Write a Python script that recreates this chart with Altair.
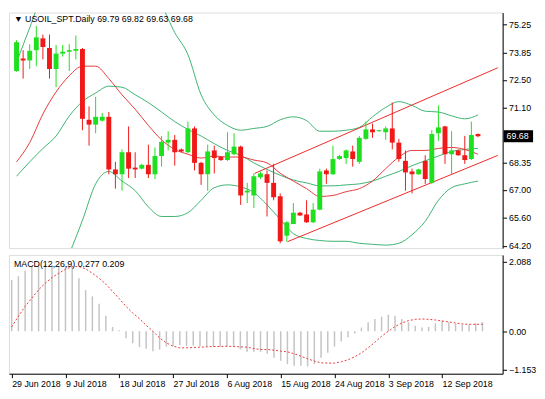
import altair as alt
import pandas as pd

# ---------------- data ----------------
opens = [72.94, 73.57, 73.47, 73.98, 74.57, 74.09, 73.04, 73.81, 73.90, 73.95,
         74.04, 70.50, 70.26, 70.46, 70.65, 68.02, 67.78, 68.88, 68.11, 68.06,
         68.25, 67.78, 68.69, 69.36, 69.50, 69.02, 68.88, 70.07, 68.35, 67.78,
         68.97, 68.64, 68.49, 68.78, 69.16, 66.87, 66.72, 67.63, 67.78, 67.35,
         66.68, 64.71, 65.29, 65.86, 65.77, 65.38, 66.01, 67.97, 67.78, 68.54,
         68.59, 68.92, 68.40, 69.55, 70.02, 69.93, 69.88, 70.07, 69.36, 68.45,
         67.92, 67.78, 68.45, 67.35, 69.83, 70.17, 68.78, 68.97, 68.73, 68.54,
         69.79]
highs = [74.48, 73.98, 74.28, 75.19, 74.76, 74.76, 74.24, 74.24, 74.28, 74.71,
         74.09, 71.17, 71.65, 70.84, 70.89, 68.40, 69.02, 70.17, 68.88, 68.30,
         69.26, 69.12, 69.69, 69.93, 69.74, 69.07, 70.41, 70.17, 68.40, 69.26,
         69.21, 68.69, 69.88, 69.83, 69.21, 67.35, 67.82, 67.92, 67.97, 68.30,
         66.82, 65.43, 66.34, 65.90, 66.48, 66.34, 68.06, 68.06, 69.21, 68.75,
         69.02, 69.21, 69.69, 70.41, 70.31, 70.00, 70.17, 71.36, 69.55, 68.97,
         68.06, 68.06, 68.73, 69.98, 71.22, 70.20, 69.93, 69.02, 69.69, 70.41,
         69.82]
lows = [72.90, 72.56, 73.04, 73.18, 73.52, 72.56, 72.13, 73.66, 72.94, 73.52,
        69.98, 69.21, 69.83, 70.41, 67.78, 67.06, 66.96, 67.59, 67.59, 68.02,
        67.59, 67.54, 68.16, 68.97, 68.21, 68.88, 68.83, 67.97, 67.25, 66.96,
        67.82, 68.45, 68.45, 68.73, 66.25, 66.34, 66.10, 67.54, 65.67, 66.48,
        64.33, 64.41, 65.29, 65.70, 65.35, 65.35, 65.98, 67.30, 67.75, 68.50,
        68.30, 68.16, 68.30, 69.50, 69.60, 69.90, 69.50, 69.02, 68.40, 66.96,
        66.82, 67.75, 67.30, 67.30, 69.45, 68.30, 67.78, 68.70, 68.30, 68.49,
        69.63]
closes = [74.38, 73.47, 73.95, 74.62, 74.14, 73.04, 73.81, 73.90, 73.98, 74.04,
          70.55, 70.26, 70.65, 70.65, 68.02, 67.78, 68.88, 68.06, 68.02, 68.25,
          67.78, 68.69, 69.40, 69.50, 68.88, 68.92, 70.07, 68.35, 67.78, 68.92,
          68.59, 68.49, 68.88, 69.16, 66.72, 66.96, 67.68, 67.82, 67.35, 66.63,
          64.43, 65.38, 65.86, 65.72, 65.38, 66.01, 67.92, 67.78, 68.54, 68.69,
          68.97, 68.54, 69.60, 70.02, 69.88, 69.98, 70.07, 69.36, 68.54, 67.87,
          67.78, 68.02, 67.54, 69.79, 70.12, 68.78, 68.97, 68.73, 68.49, 69.74,
          69.68]

# Bollinger bands and red moving average, read every second bar
band_idx = [0, 2, 4, 6, 8, 10, 12, 14, 16, 18, 20, 22, 24, 26, 28, 30, 32, 34,
            36, 38, 40, 42, 44, 46, 48, 50, 52, 54, 56, 58, 60, 62, 64, 66, 68, 70]
bb_upper = [73.37, 75.10, 76.80, 77.50, 77.90, 78.00, 78.10, 78.00, 77.80, 77.40,
            76.90, 76.20, 74.86, 73.76, 71.75, 70.74, 70.22, 69.98, 70.07, 70.17,
            70.50, 70.65, 70.46, 69.93, 69.93, 69.98, 70.12, 70.65, 71.12, 71.41,
            71.22, 70.93, 70.89, 70.70, 70.55, 70.74]
bb_mid = [67.68, 68.40, 69.07, 69.69, 70.69, 71.41, 71.84, 72.18, 72.13, 71.75,
          71.36, 70.89, 70.41, 70.02, 69.69, 69.31, 68.97, 68.73, 68.35, 68.02,
          67.73, 67.49, 67.35, 67.20, 67.20, 67.25, 67.30, 67.44, 67.68, 67.92,
          68.21, 68.45, 68.69, 68.92, 69.02, 69.07]
bb_lower = [62.00, 61.70, 61.40, 62.30, 63.80, 65.48, 67.30, 67.92, 67.44, 66.96,
            66.15, 65.67, 65.67, 65.86, 66.48, 67.11, 67.25, 67.15, 66.87, 66.25,
            65.53, 64.81, 64.57, 64.47, 64.43, 64.43, 64.33, 64.28, 64.24, 64.33,
            64.76, 65.43, 66.48, 67.11, 67.30, 67.44]
ma_red = [68.40, 69.36, 70.79, 71.89, 72.70, 73.18, 73.18, 72.56, 71.75, 71.03,
          70.22, 69.50, 69.02, 68.78, 68.59, 68.69, 68.64, 68.64, 68.49, 68.35,
          67.83, 67.44, 67.06, 66.67, 66.72, 66.91, 67.06, 67.44, 68.06, 68.64,
          68.97, 68.97, 69.07, 69.12, 69.02, 68.78]

# channel lines (bar index, price)
chan_up_idx = [36.1, 73.0]
chan_up_px = [67.82, 73.10]
chan_lo_idx = [41.1, 73.0]
chan_lo_px = [64.41, 68.72]

# MACD main (histogram) and signal
macd_main = [1.55, 1.66, 1.83, 1.97, 2.02, 2.02, 1.99, 1.97, 1.97, 1.95,
             1.60, 1.24, 1.05, 0.83, 0.47, 0.13, 0.03, -0.21, -0.36, -0.48,
             -0.53, -0.60, -0.55, -0.46, -0.44, -0.42, -0.45, -0.43, -0.45, -0.47,
             -0.47, -0.47, -0.47, -0.47, -0.55, -0.62, -0.62, -0.62, -0.68, -0.80,
             -0.89, -0.99, -1.04, -1.04, -1.06, -0.99, -0.80, -0.65, -0.46, -0.31,
             -0.18, -0.07, 0.11, 0.27, 0.37, 0.44, 0.50, 0.47, 0.37, 0.27,
             0.17, 0.11, 0.13, 0.24, 0.32, 0.27, 0.22, 0.20, 0.20, 0.24,
             0.277]
macd_signal = [0.13, 0.45, 0.75, 1.00, 1.25, 1.45, 1.62, 1.75, 1.87, 1.95,
               1.95, 1.88, 1.75, 1.60, 1.42, 1.20, 0.98, 0.75, 0.55, 0.38,
               0.18, 0.00, -0.20, -0.35, -0.45, -0.50, -0.50, -0.49, -0.48, -0.47,
               -0.46, -0.46, -0.45, -0.46, -0.47, -0.48, -0.52, -0.55, -0.55, -0.57,
               -0.60, -0.62, -0.68, -0.75, -0.83, -0.90, -0.95, -0.96, -0.96, -0.92,
               -0.86, -0.77, -0.65, -0.50, -0.33, -0.15, 0.00, 0.14, 0.25, 0.32,
               0.36, 0.37, 0.36, 0.34, 0.31, 0.28, 0.25, 0.22, 0.21, 0.21,
               0.209]

price_ticks = [64.20, 65.60, 67.00, 68.35, 71.10, 72.50, 73.85, 75.25]
macd_ticks = [-1.153, 0.0, 2.088]
date_tick_idx = [0, 8, 16, 24, 32, 40, 48, 56, 64]
date_labels = ["29 Jun 2018", "9 Jul 2018", "18 Jul 2018", "27 Jul 2018",
               "6 Aug 2018", "15 Aug 2018", "24 Aug 2018", "3 Sep 2018",
               "12 Sep 2018"]
cur_price = 69.68
header_text = "\u25BC USOIL_SPT.Daily  69.79 69.82 69.63 69.68"
macd_text = "MACD(12,26,9) 0.277 0.209"

# ---------------- styling ----------------
W, H1, H2 = 503, 240, 121
FONT = "Liberation Sans"
GREEN = "#1fe01f"
RED = "#f01818"
BAND = "#3cb371"
MA_COL = "#e33a3a"
CH_COL = "#f02828"

xs = alt.Scale(domain=[-0.4, 73.0], nice=False, zero=False)
ys = alt.Scale(domain=[64.09, 75.86], nice=False, zero=False)
ms = alt.Scale(domain=[-1.28, 2.30], nice=False, zero=False)

yax = alt.Axis(orient="right", values=price_ticks, title=None, grid=False,
               labelExpr="format(datum.value, '.2f')", labelFontSize=9,
               labelFont=FONT, labelColor="#000", tickColor="#000",
               domainColor="#000", tickSize=4, labelPadding=2,
               labelOverlap=False, labelFlush=False)

df = pd.DataFrame({"i": list(range(len(opens))), "open": opens, "high": highs,
                   "low": lows, "close": closes})
df["dir"] = ["up" if c >= o else "down" for o, c in zip(opens, closes)]
col = alt.Color("dir:N", scale=alt.Scale(domain=["up", "down"], range=[GREEN, RED]),
                legend=None)

base = alt.Chart(df).encode(x=alt.X("i:Q", scale=xs, axis=None))
wicks = base.mark_rule(strokeWidth=1).encode(
    y=alt.Y("low:Q", scale=ys, axis=yax), y2="high:Q", color=col)
bodies = base.mark_bar(size=5).encode(
    y=alt.Y("open:Q", scale=ys, axis=yax), y2="close:Q", color=col)

bands = pd.DataFrame({"i": band_idx, "up": bb_upper, "mid": bb_mid,
                      "lo": bb_lower, "ma": ma_red})
bb = alt.Chart(bands).encode(x=alt.X("i:Q", scale=xs, axis=None))


def band_line(field, color):
    return bb.mark_line(color=color, strokeWidth=1, clip=True, interpolate="monotone").encode(
        y=alt.Y(f"{field}:Q", scale=ys, axis=yax))


up_l = band_line("up", BAND)
mid_l = band_line("mid", BAND)
lo_l = band_line("lo", BAND)
ma_l = band_line("ma", MA_COL)

ch_df = pd.DataFrame({"i": chan_up_idx + chan_lo_idx, "p": chan_up_px + chan_lo_px,
                      "g": ["u", "u", "l", "l"]})
chan = alt.Chart(ch_df).mark_line(color=CH_COL, strokeWidth=1, clip=True).encode(
    x=alt.X("i:Q", scale=xs, axis=None),
    y=alt.Y("p:Q", scale=ys, axis=yax), detail="g:N")

pb_df = pd.DataFrame({"p": [cur_price]})
pbox = alt.Chart(pb_df).transform_calculate(
    t="datum.p + 0.30", b="datum.p - 0.30").mark_rect(color="#000").encode(
    x=alt.value(W + 1), x2=alt.value(W + 31),
    y=alt.Y("t:Q", scale=ys, axis=yax), y2="b:Q")
ptxt = alt.Chart(pb_df).mark_text(color="#fff", align="left", baseline="middle",
                                  fontSize=9, font=FONT).encode(
    x=alt.value(W + 4), y=alt.Y("p:Q", scale=ys, axis=yax),
    text=alt.Text("p:Q", format=".2f"))

hdr = alt.Chart(pd.DataFrame({"t": [header_text]})).mark_text(
    align="left", baseline="middle", fontSize=9, font=FONT, color="#000").encode(
    x=alt.value(5), y=alt.value(7), text="t:N")

main = alt.layer(up_l, mid_l, lo_l, ma_l, chan, wicks, bodies, pbox, ptxt, hdr).properties(
    width=W, height=H1)

# ---------------- MACD panel ----------------
mdf = pd.DataFrame({"i": list(range(len(macd_main))), "m": macd_main, "s": macd_signal})
label_arr = "[" + ",".join("'" + s + "'" for s in date_labels) + "]"
xax = alt.Axis(values=date_tick_idx, labelExpr=label_arr + "[round(datum.value / 8)]",
               title=None, grid=False, labelAlign="left", labelFontSize=9,
               labelFont=FONT, labelColor="#000", tickColor="#000",
               domainColor="#000", tickSize=4, labelPadding=2,
               labelOverlap=False, labelFlush=False)
max_ = alt.Axis(orient="right", values=macd_ticks, title=None, grid=False,
                labelExpr="datum.value == 0 ? '0.00' : format(datum.value, '.3f')",
                labelFontSize=9, labelFont=FONT, labelColor="#000",
                tickColor="#000", domainColor="#000", tickSize=4, labelPadding=2,
                labelOverlap=False, labelFlush=False)

mbase = alt.Chart(mdf).encode(x=alt.X("i:Q", scale=xs, axis=xax))
hist = mbase.mark_rule(color="#c4c4c4", strokeWidth=1.5).encode(
    y=alt.Y("m:Q", scale=ms, axis=max_), y2=alt.datum(0))
sig = mbase.mark_line(color="#e8393c", strokeWidth=1, strokeDash=[2, 2]).encode(
    y=alt.Y("s:Q", scale=ms, axis=max_))
mhdr = alt.Chart(pd.DataFrame({"t": [macd_text]})).mark_text(
    align="left", baseline="middle", fontSize=9, font=FONT, color="#000").encode(
    x=alt.value(5), y=alt.value(9), text="t:N")

macd = alt.layer(hist, sig, mhdr).properties(width=W, height=H2)

chart = alt.vconcat(main, macd, spacing=2).properties(
    padding={"left": 0, "top": 0, "right": 0, "bottom": 0}
).configure_view(stroke="#000", strokeWidth=1).configure(background="#ffffff")

chart.save("out.html", embed_options={"renderer": "svg", "actions": False})
